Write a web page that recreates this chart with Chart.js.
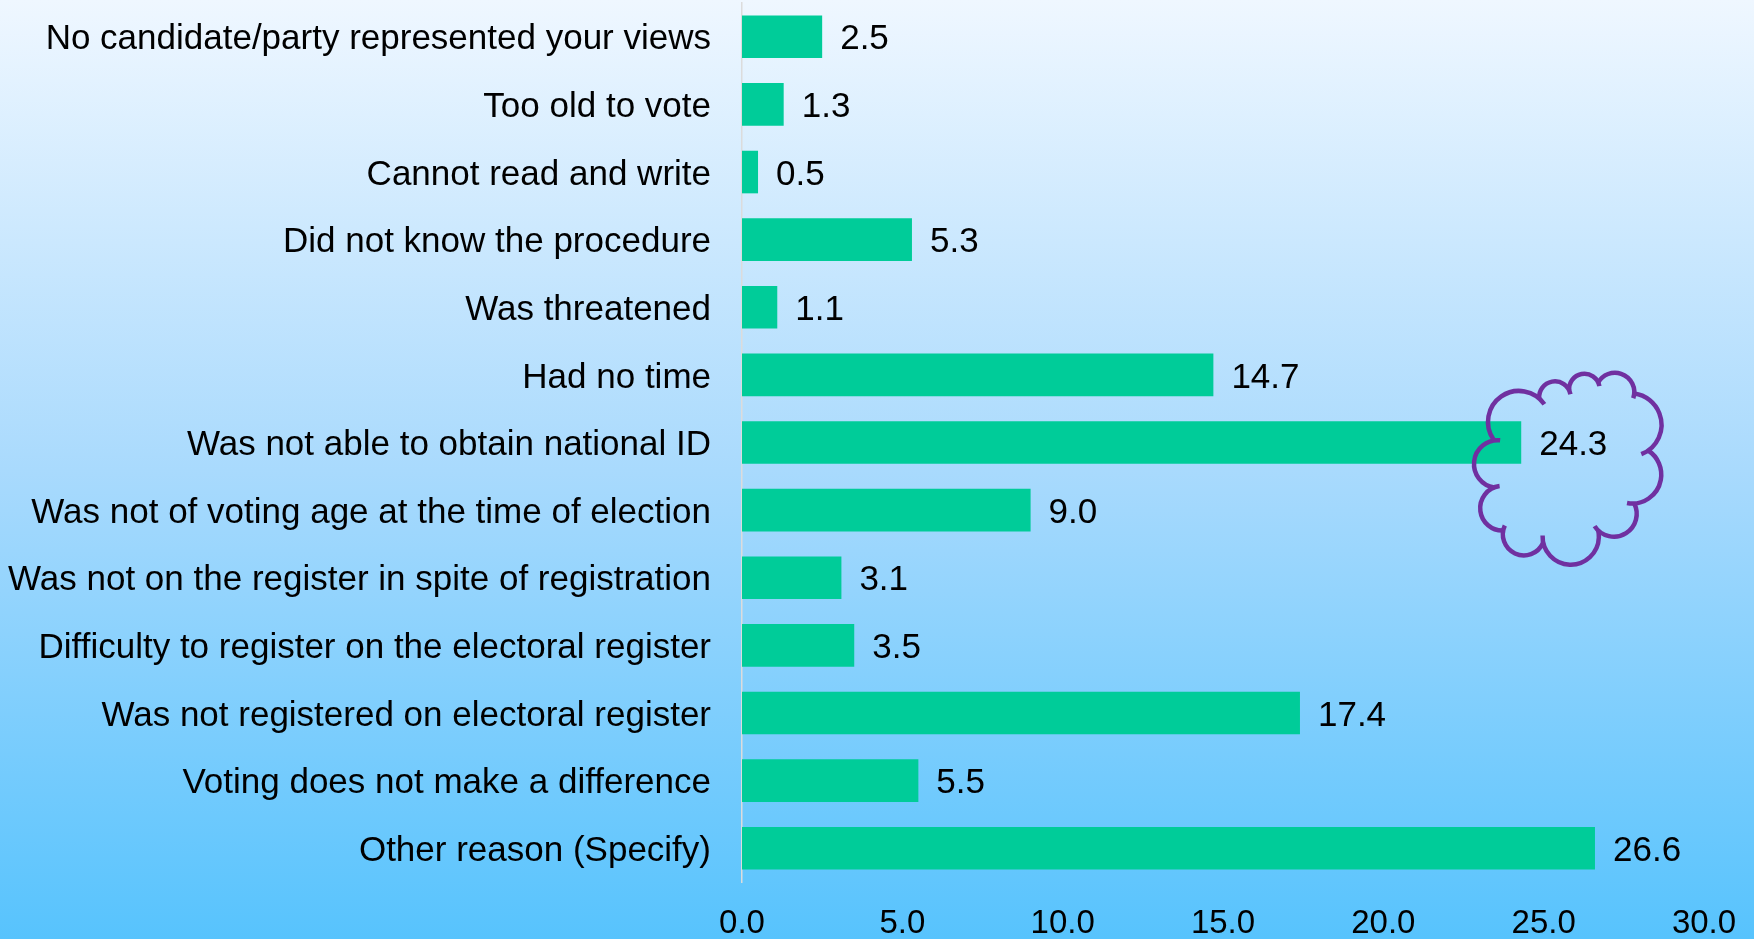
<!DOCTYPE html>
<html lang="en">
<head>
    <meta charset="UTF-8">
    <title>Reasons for not voting</title>
    <style>
        body { margin: 0; overflow: hidden; }
        #wrap { width: 1754px; height: 939px; }
    </style>
</head>
<body>
    <div id="wrap">
        <canvas id="myChart" width="1754" height="939"></canvas>
    </div>

    <script src="https://cdn.jsdelivr.net/npm/chart.js@4.4.1/dist/chart.umd.min.js"></script>
    <script>
    // categories, top to bottom
    const categories = [
        'No candidate/party represented your views',
        'Too old to vote',
        'Cannot read and write',
        'Did not know the procedure',
        'Was threatened',
        'Had no time',
        'Was not able to obtain national ID',
        'Was not of voting age at the time of election',
        'Was not on the register in spite of registration',
        'Difficulty to register on the electoral register',
        'Was not registered on electoral register',
        'Voting does not make a difference',
        'Other reason (Specify)'
    ];
    const values = [2.5, 1.3, 0.5, 5.3, 1.1, 14.7, 24.3, 9.0, 3.1, 3.5, 17.4, 5.5, 26.6];
    const xTicks = [0, 5, 10, 15, 20, 25, 30];
    const highlightIndex = 6; // the bar with the cloud round its label

    const FONT = '"Liberation Sans", Arial, sans-serif';

    // gradient background for the whole canvas
    const bgPlugin = {
        id: 'bg',
        beforeDraw(chart) {
            const c = chart.ctx;
            const g = c.createLinearGradient(0, 0, 0, chart.height);
            g.addColorStop(0, '#eff7ff');
            g.addColorStop(0.5, '#a9dafd');
            g.addColorStop(1, '#57c3fd');
            c.save();
            c.fillStyle = g;
            c.fillRect(0, 0, chart.width, chart.height);
            c.restore();
        }
    };

    // value labels at the end of each bar
    const valueLabels = {
        id: 'valueLabels',
        afterDatasetsDraw(chart) {
            const c = chart.ctx;
            const meta = chart.getDatasetMeta(0);
            c.save();
            c.font = '35px ' + FONT;
            c.fillStyle = '#000';
            c.textAlign = 'left';
            c.textBaseline = 'middle';
            meta.data.forEach(function(bar, i) {
                c.fillText(values[i].toFixed(1), bar.x + 18, bar.y + 3);
            });
            c.restore();
        }
    };

    // cloud callout (outline only) round one label
    const cloud = {
        id: 'cloud',
        afterDraw(chart) {
            const bar = chart.getDatasetMeta(0).data[highlightIndex];
            const cx = bar.x + 45, cy = bar.y + 27;
            // joints of the scallops, relative to the cloud centre, and bulge of each arc
            const pts = [[-72,-29],[-72,18],[-63,61],[-23,73],[32,61],[68,34],[82,-19],[68,-76],[32,-87],[3,-79],[-27,-71]];
            const bulge = [0.43,0.42,0.45,0.5,0.42,0.36,0.34,0.4,0.42,0.42,0.45];
            const c = chart.ctx;
            c.save();
            c.strokeStyle = '#7030a0';
            c.lineWidth = 4.5;
            c.lineCap = 'butt';
            for (let i = 0; i < pts.length; i++) {
                const a = pts[i], b = pts[(i + 1) % pts.length];
                const ax = cx + a[0], ay = cy + a[1], bx = cx + b[0], by = cy + b[1];
                const dx = bx - ax, dy = by - ay;
                const len = Math.hypot(dx, dy);
                const s = len * bulge[i];
                const R = (len * len / 4 + s * s) / (2 * s);
                let nx = dy / len, ny = -dx / len;
                const mx = (ax + bx) / 2, my = (ay + by) / 2;
                if ((mx - cx) * nx + (my - cy) * ny < 0) { nx = -nx; ny = -ny; }
                const ox = mx - nx * (R - s), oy = my - ny * (R - s);
                const a1 = Math.atan2(ay - oy, ax - ox);
                const a2 = Math.atan2(by - oy, bx - ox);
                c.beginPath();
                c.arc(ox, oy, R, a1 + 0.25, a2, true);
                c.stroke();
            }
            c.restore();
        }
    };

    const ctx = document.getElementById('myChart').getContext('2d');
    const myChart = new Chart(ctx, {
        type: 'bar',
        data: {
            labels: categories,
            datasets: [{
                data: values,
                backgroundColor: '#00cc99',
                borderWidth: 0,
                barPercentage: 0.63,
                categoryPercentage: 1.0
            }]
        },
        options: {
            indexAxis: 'y',
            responsive: false,
            animation: false,
            layout: { padding: { top: 3, right: 50, left: 0, bottom: 0 } },
            plugins: {
                legend: { display: false },
                tooltip: { enabled: false }
            },
            scales: {
                x: {
                    min: 0,
                    max: 30,
                    afterBuildTicks: function(s) { s.ticks = xTicks.map(function(v) { return { value: v }; }); },
                    afterFit: function(s) { s.height = 57; s.paddingLeft = 0; s.paddingRight = 0; },
                    grid: { display: false, drawTicks: false },
                    border: { display: false },
                    ticks: {
                        padding: 22,
                        color: '#000',
                        font: { family: FONT, size: 33 },
                        maxRotation: 0,
                        callback: function(v) { return Number(v).toFixed(1); }
                    }
                },
                y: {
                    afterFit: function(s) { s.width = 742; s.paddingTop = 0; s.paddingBottom = 0; },
                    grid: { display: false, drawTicks: false },
                    border: { display: true, color: '#dcdcdc', width: 1.5 },
                    ticks: {
                        padding: 31,
                        labelOffset: 3,
                        color: '#000',
                        font: { family: FONT, size: 35 }
                    }
                }
            }
        },
        plugins: [bgPlugin, valueLabels, cloud]
    });
    </script>
</body>
</html>
